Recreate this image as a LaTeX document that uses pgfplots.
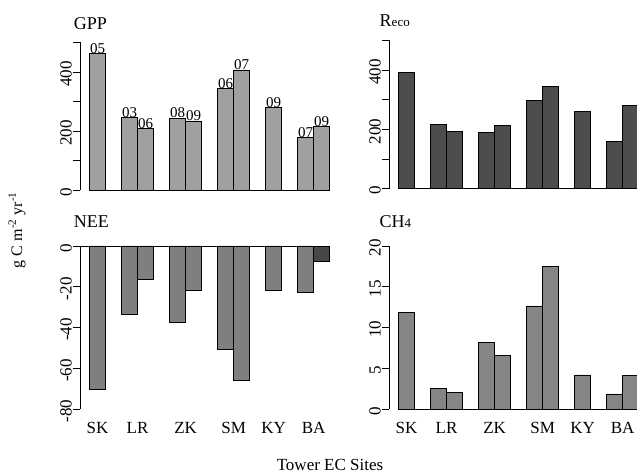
\documentclass[border=0pt]{standalone}
\usepackage{pgfplots}
\pgfplotsset{compat=1.18}
\usepackage{pgfplotstable}
\usepackage{fontspec}
\setmainfont{Liberation Serif}
\definecolor{cgpp}{HTML}{A0A0A0}
\definecolor{creco}{HTML}{4D4D4D}
\definecolor{cnee}{HTML}{7F7F7F}
\definecolor{cneed}{HTML}{474747}
\definecolor{cch}{HTML}{858585}
\pgfplotstableread{
x y lab
0.5 463 05
2.5 247 03
3.5 208 06
5.5 244 08
6.5 234 09
8.5 343 06
9.5 407 07
11.5 281 09
13.5 179 07
14.5 215 09
}\gpp
\pgfplotstableread{
x y
0.5 392
2.5 215
3.5 193
5.5 189
6.5 212
8.5 296
9.5 343
11.5 260
13.5 158
14.5 281
}\reco
\pgfplotstableread{
x y
0.5 -70.3
2.5 -33.3
3.5 -16.3
5.5 -37.6
6.5 -21.9
8.5 -50.8
9.5 -65.7
11.5 -21.9
13.5 -23.0
}\nee
\pgfplotstableread{
x y
14.5 -7.4
}\needark
\pgfplotstableread{
x y
0.5 11.8
2.5 2.54
3.5 2.0
5.5 8.18
6.5 6.54
8.5 12.64
9.5 17.46
11.5 4.17
13.5 1.84
14.5 4.09
}\chf
\tikzset{xl/.style={font=\fontsize{17}{17}\selectfont}}
\newcommand\xlabs[1]{%
    \node[xl] at (axis cs:0.5,#1) {SK};
    \node[xl] at (axis cs:3,#1) {LR};
    \node[xl] at (axis cs:6,#1) {ZK};
    \node[xl] at (axis cs:9,#1) {SM};
    \node[xl] at (axis cs:11.5,#1) {KY};
    \node[xl] at (axis cs:14,#1) {BA};}
\pgfplotsset{
  panel/.style={
    scale only axis, x=16pt, xmin=-0.6, xmax=15.6,
    axis x line=none, axis y line*=left,
    y axis line style={draw=none},
    tick align=outside, major tick length=7pt,
    tick style={black, line width=0.8pt},
    yticklabel style={rotate=90, anchor=south, font=\fontsize{17}{17}\selectfont, inner sep=1pt, xshift=-2pt},
    /pgf/number format/assume math mode=true,
    anchor=south west, clip=false,
    ybar, bar width=1, bar shift=0pt,
    every axis plot/.append style={draw=black, line width=0.8pt},
  },
}
\begin{document}
\begin{tikzpicture}[x=1pt,y=1pt]
\useasboundingbox (0pt,0pt) rectangle (637pt,475pt);
\clip (0pt,0pt) rectangle (637pt,475pt);
% GPP
\begin{axis}[panel, at={(80pt,279.1pt)}, y=0.295pt, ymin=-20, ymax=520,
  ytick={0,100,...,500}, yticklabels={0,,200,,400,},
  nodes near coords, point meta=explicit symbolic,
  every node near coord/.append style={font=\fontsize{15}{15}\selectfont, inner sep=0.5pt, yshift=-1pt}]
\addplot[fill=cgpp] table[x=x,y=y,meta=lab] {\gpp};
\draw[line width=0.8pt] (axis cs:-0.6,0) -- (axis cs:-0.6,500);
\draw[line width=0.8pt] (axis cs:0,0) -- (axis cs:15,0);
\node[anchor=base west, font=\fontsize{18}{18}\selectfont] at (axis cs:-1.2,545) {GPP};
\end{axis}
% Reco
\begin{axis}[panel, at={(389pt,280.4pt)}, y=0.2967pt, ymin=-20, ymax=520,
  ytick={0,100,...,500}, yticklabels={0,,200,,400,}]
\addplot[fill=creco] table[x=x,y=y] {\reco};
\draw[line width=0.8pt] (axis cs:-0.6,0) -- (axis cs:-0.6,500);
\draw[line width=0.8pt] (axis cs:0,0) -- (axis cs:15,0);
\node[anchor=base west, font=\fontsize{18}{18}\selectfont] at (axis cs:-1.4,545) {R{\fontsize{13}{13}\selectfont eco}};
\end{axis}
% NEE
\begin{axis}[panel, at={(80pt,59.3pt)}, y=2.04pt, ymin=-83.2, ymax=3.2,
  ytick={-80,-60,...,0}]
\addplot[fill=cnee] table[x=x,y=y] {\nee};
\addplot[fill=cneed] table[x=x,y=y] {\needark};
\draw[line width=0.8pt] (axis cs:-0.6,-80) -- (axis cs:-0.6,0);
\draw[line width=0.8pt] (axis cs:-0.6,0) -- (axis cs:15,0);
\node[anchor=base west, font=\fontsize{18}{18}\selectfont] at (axis cs:-1.2,9) {NEE};
\xlabs{-89.2}
\end{axis}
% CH4
\begin{axis}[panel, at={(389pt,59.5pt)}, y=8.15pt, ymin=-0.8, ymax=20.8,
  ytick={0,5,...,20}]
\addplot[fill=cch] table[x=x,y=y] {\chf};
\draw[line width=0.8pt] (axis cs:-0.6,0) -- (axis cs:-0.6,20);
\draw[line width=0.8pt] (axis cs:0,0) -- (axis cs:15,0);
\node[anchor=base west, font=\fontsize{18}{18}\selectfont] at (axis cs:-1.4,22.3) {CH{\fontsize{13}{13}\selectfont 4}};
\xlabs{-2.33}
\end{axis}
\node[rotate=90, font=\fontsize{16}{16}\selectfont] at (17pt,245pt) {g C m\textsuperscript{-2} yr\textsuperscript{-1}};
\node[font=\fontsize{17}{17}\selectfont] at (330pt,10pt) {Tower EC Sites};
\end{tikzpicture}
\end{document}
